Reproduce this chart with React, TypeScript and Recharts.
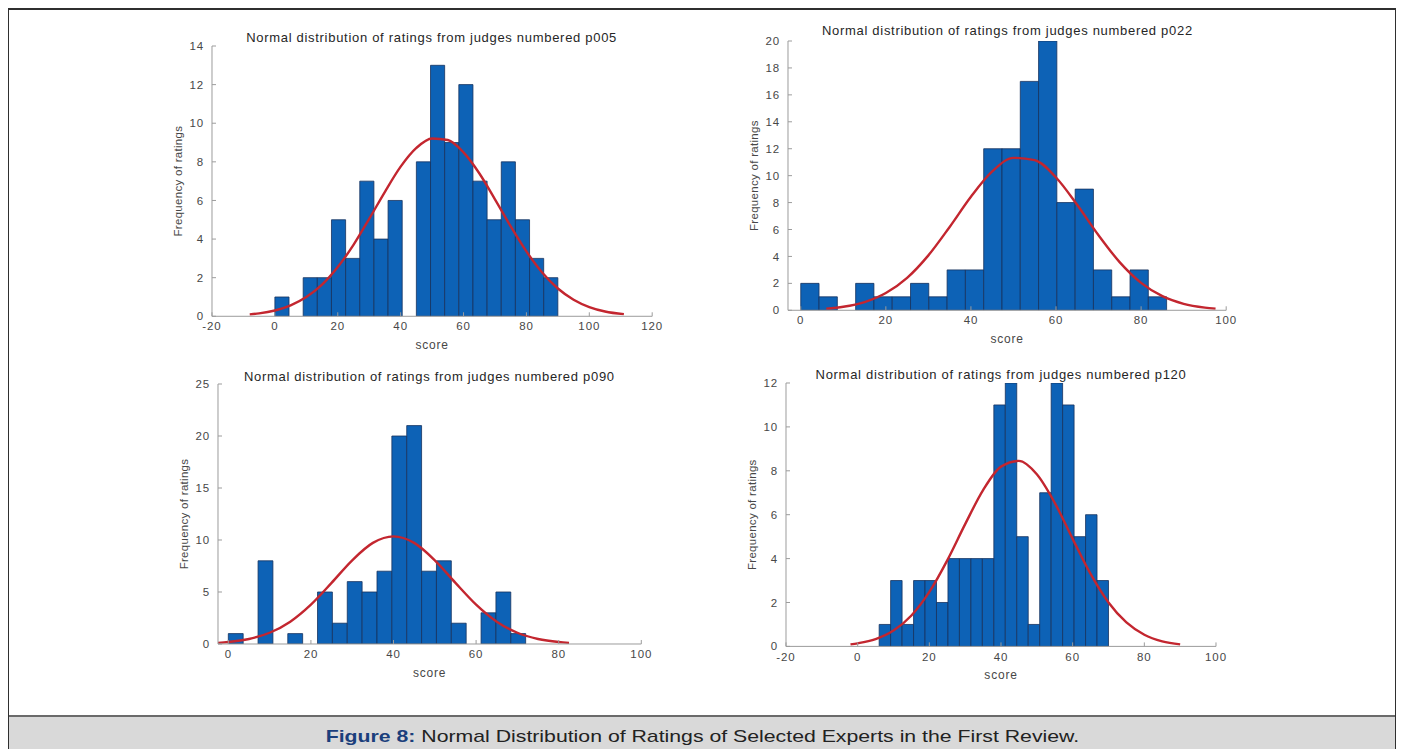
import React from "react";
import { ComposedChart, Bar, Line, XAxis, YAxis, Label } from "recharts";

const FONT = '"Liberation Sans", Arial, Helvetica, sans-serif';

// judge p005
const P005_EDGES = [0, 4.5, 9, 13.5, 18, 22.5, 27, 31.5, 36, 40.5, 45, 49.5, 54, 58.5, 63, 67.5, 72, 76.5, 81, 85.5, 90];
const P005_COUNTS = [1, 0, 2, 2, 5, 3, 7, 4, 6, 0, 8, 13, 9, 12, 7, 5, 8, 5, 3, 2];
const P005_FIT_X = [-8, -5, 0, 5, 10, 15, 20, 25, 30, 35, 40, 45, 50, 55, 60, 65, 70, 75, 80, 85, 90, 95, 100, 105, 111];
const P005_FIT_Y = [0.1, 0.15, 0.3, 0.57, 1.0, 1.64, 2.55, 3.7, 5.05, 6.45, 7.75, 8.72, 9.21, 9.13, 8.49, 7.41, 6.06, 4.66, 3.36, 2.27, 1.44, 0.86, 0.48, 0.25, 0.11];

// judge p022
const P022_EDGES = [0, 4.3, 8.6, 12.9, 17.2, 21.5, 25.8, 30.1, 34.4, 38.7, 43, 47.3, 51.6, 55.9, 60.2, 64.5, 68.8, 73.1, 77.4, 81.7, 86];
const P022_COUNTS = [2, 1, 0, 2, 1, 1, 2, 1, 3, 3, 12, 12, 17, 20, 8, 9, 3, 1, 3, 1];
const P022_FIT_X = [6, 10, 15, 20, 25, 30, 35, 40, 45, 50, 55, 60, 65, 70, 75, 80, 85, 90, 95, 97.5];
const P022_FIT_Y = [0.12, 0.26, 0.61, 1.28, 2.41, 4.08, 6.19, 8.43, 10.31, 11.32, 11.15, 9.86, 7.82, 5.57, 3.56, 2.04, 1.05, 0.48, 0.2, 0.12];

// judge p090
const P090_EDGES = [0, 3.6, 7.2, 10.8, 14.4, 18, 21.6, 25.2, 28.8, 32.4, 36, 39.6, 43.2, 46.8, 50.4, 54, 57.6, 61.2, 64.8, 68.4, 72];
const P090_COUNTS = [1, 0, 8, 0, 1, 0, 5, 2, 6, 5, 7, 20, 21, 7, 8, 2, 0, 3, 5, 1];
const P090_FIT_X = [-2.5, 0, 5, 10, 15, 20, 25, 30, 35, 40, 45, 50, 55, 60, 65, 70, 75, 80, 82.5];
const P090_FIT_Y = [0.11, 0.19, 0.48, 1.08, 2.15, 3.79, 5.88, 8.05, 9.72, 10.35, 9.72, 8.05, 5.88, 3.79, 2.15, 1.08, 0.48, 0.19, 0.11];

// judge p120
const P120_EDGES = [6, 9.2, 12.4, 15.6, 18.8, 22, 25.2, 28.4, 31.6, 34.8, 38, 41.2, 44.4, 47.6, 50.8, 54, 57.2, 60.4, 63.6, 66.8, 70];
const P120_COUNTS = [1, 3, 1, 3, 3, 2, 4, 4, 4, 4, 11, 12, 5, 1, 7, 12, 11, 5, 6, 3];
const P120_FIT_X = [-2, 0, 5, 10, 15, 20, 25, 30, 35, 40, 45, 50, 55, 60, 65, 70, 75, 80, 85, 90];
const P120_FIT_Y = [0.09, 0.14, 0.33, 0.72, 1.41, 2.48, 3.92, 5.57, 7.12, 8.19, 8.45, 7.84, 6.54, 4.9, 3.3, 2.0, 1.09, 0.53, 0.23, 0.09];

const TITLE = "Normal distribution of ratings from judges numbered ";

type Panel = {
  judge: string;
  edges: number[];
  counts: number[];
  fitX: number[];
  fitY: number[];
  xDomain: [number, number];
  xTicks: number[];
  yDomain: [number, number];
  yTicks: number[];
  // plot rectangle in page pixels
  plot: { left: number; top: number; right: number; bottom: number };
  titleY: number;
};

const PANELS: Panel[] = [
  {
    judge: "p005",
    edges: P005_EDGES, counts: P005_COUNTS, fitX: P005_FIT_X, fitY: P005_FIT_Y,
    xDomain: [-20, 120], xTicks: [-20, 0, 20, 40, 60, 80, 100, 120],
    yDomain: [0, 14], yTicks: [0, 2, 4, 6, 8, 10, 12, 14],
    plot: { left: 211.5, top: 45.7, right: 651.7, bottom: 316 },
    titleY: 38,
  },
  {
    judge: "p022",
    edges: P022_EDGES, counts: P022_COUNTS, fitX: P022_FIT_X, fitY: P022_FIT_Y,
    xDomain: [-3, 100], xTicks: [0, 20, 40, 60, 80, 100],
    yDomain: [0, 20], yTicks: [0, 2, 4, 6, 8, 10, 12, 14, 16, 18, 20],
    plot: { left: 788.3, top: 40.7, right: 1226.5, bottom: 310 },
    titleY: 31,
  },
  {
    judge: "p090",
    edges: P090_EDGES, counts: P090_COUNTS, fitX: P090_FIT_X, fitY: P090_FIT_Y,
    xDomain: [-2.5, 100], xTicks: [0, 20, 40, 60, 80, 100],
    yDomain: [0, 25], yTicks: [0, 5, 10, 15, 20, 25],
    plot: { left: 217.7, top: 384, right: 641, bottom: 644 },
    titleY: 377,
  },
  {
    judge: "p120",
    edges: P120_EDGES, counts: P120_COUNTS, fitX: P120_FIT_X, fitY: P120_FIT_Y,
    xDomain: [-20, 100], xTicks: [-20, 0, 20, 40, 60, 80, 100],
    yDomain: [0, 12], yTicks: [0, 2, 4, 6, 8, 10, 12],
    plot: { left: 786, top: 383.3, right: 1216, bottom: 646.7 },
    titleY: 375,
  },
];

const ORIGIN = 8; // body margin
const YAXIS_W = 60;
const MARGIN_TOP = 10;
const MARGIN_RIGHT = 15;
const XAXIS_H = 36;

const BAR_FILL = "#0d62b6";
const BAR_EDGE = "#16325e";
const FIT_COLOR = "#c3262f";
const AXIS_COLOR = "#9c9c9c";
const TEXT_COLOR = "#474747";
const TICK_STYLE = { fill: TEXT_COLOR, fontSize: 11.5, fontFamily: FONT, letterSpacing: 0.9 };

function Histogram({ panel }: { panel: Panel }) {
  const { plot } = panel;
  const plotW = plot.right - plot.left;
  const plotH = plot.bottom - plot.top;
  const width = plotW + YAXIS_W + MARGIN_RIGHT;
  const height = plotH + MARGIN_TOP + XAXIS_H;
  const binPx = ((panel.edges[1] - panel.edges[0]) * plotW) / (panel.xDomain[1] - panel.xDomain[0]);

  const bins = panel.counts.map((count, i) => ({
    x: (panel.edges[i] + panel.edges[i + 1]) / 2,
    count,
  }));
  const fit = panel.fitX.map((x, i) => ({ x, fit: panel.fitY[i] }));

  return (
    <>
      <div
        style={{
          position: "absolute",
          left: plot.left - ORIGIN,
          width: plotW,
          top: panel.titleY - 8 - ORIGIN,
          lineHeight: "16px",
          textAlign: "center",
          fontFamily: FONT,
          fontSize: 13,
          letterSpacing: 0.7,
          color: "#262626",
          whiteSpace: "nowrap",
        }}
      >
        {TITLE + panel.judge}
      </div>
      <div style={{ position: "absolute", left: plot.left - YAXIS_W - ORIGIN, top: plot.top - MARGIN_TOP - ORIGIN }}>
        <ComposedChart
          width={width}
          height={height}
          data={bins}
          margin={{ top: MARGIN_TOP, right: MARGIN_RIGHT, bottom: 0, left: 0 }}
          barGap={0}
          barCategoryGap={0}
        >
          <XAxis
            xAxisId="score"
            type="number"
            dataKey="x"
            domain={panel.xDomain}
            ticks={panel.xTicks}
            interval={0}
            allowDataOverflow
            height={XAXIS_H}
            stroke={AXIS_COLOR}
            tick={TICK_STYLE}
            tickSize={-4}
            tickMargin={10}
          >
            <Label
              value="score"
              position="insideBottom"
              offset={3}
              fill={TEXT_COLOR}
              fontSize={12}
              letterSpacing={0.8}
              fontFamily={FONT}
            />
          </XAxis>
          {/* bins get their own hidden axis so the bar band equals one bin */}
          <XAxis xAxisId="bins" type="number" dataKey="x" domain={panel.xDomain} height={0} hide allowDataOverflow />
          <YAxis
            type="number"
            domain={panel.yDomain}
            ticks={panel.yTicks}
            interval={0}
            allowDataOverflow
            width={YAXIS_W}
            stroke={AXIS_COLOR}
            tick={TICK_STYLE}
            tickSize={-4}
            tickMargin={12}
          >
            <Label
              value="Frequency of ratings"
              angle={-90}
              position="insideLeft"
              offset={26}
              fill={TEXT_COLOR}
              fontSize={11.5}
              letterSpacing={0.3}
              fontFamily={FONT}
              textAnchor="middle"
              style={{ textAnchor: "middle" }}
            />
          </YAxis>
          <Bar
            xAxisId="bins"
            dataKey="count"
            fill={BAR_FILL}
            stroke={BAR_EDGE}
            strokeWidth={0.8}
            barSize={binPx * 0.999}
            isAnimationActive={false}
          />
          <Line
            xAxisId="score"
            data={fit}
            dataKey="fit"
            type="monotone"
            dot={false}
            activeDot={false}
            stroke={FIT_COLOR}
            strokeWidth={2.4}
            isAnimationActive={false}
          />
        </ComposedChart>
      </div>
    </>
  );
}

export default function App() {
  return (
    <div style={{ position: "relative", width: 1388, height: 741, fontFamily: FONT }}>
      <div
        style={{
          position: "absolute",
          left: -1,
          top: 0,
          width: 1390,
          height: 800,
          border: "2px solid #2f2f2f",
          boxSizing: "border-box",
        }}
      />
      {PANELS.map((p) => (
        <Histogram key={p.judge} panel={p} />
      ))}
      <div
        style={{
          position: "absolute",
          left: 1,
          top: 715 - ORIGIN,
          width: 1386,
          height: 60,
          background: "#d9d9d9",
          borderTop: "2px solid #6a6a6a",
          boxSizing: "border-box",
        }}
      >
        <div style={{ position: "absolute", left: 0, right: 0, top: 9, textAlign: "center" }}>
          <div
            style={{
              display: "inline-block",
              fontSize: 17,
              lineHeight: "22px",
              color: "#222",
              transform: "scaleX(1.25)",
              transformOrigin: "center",
              whiteSpace: "nowrap",
            }}
          >
            <span style={{ fontWeight: "bold", color: "#1b3f7c" }}>Figure 8:</span> Normal Distribution of Ratings of
            Selected Experts in the First Review.
          </div>
        </div>
      </div>
    </div>
  );
}
